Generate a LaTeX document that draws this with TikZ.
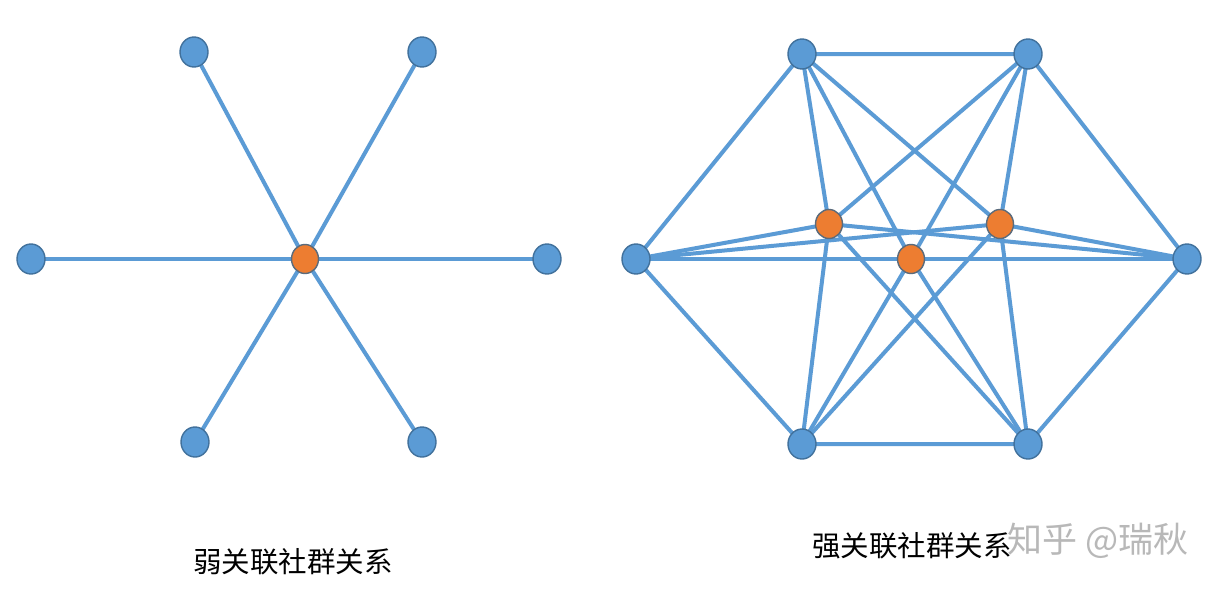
\documentclass[tikz,border=0pt]{standalone}
\usepackage{fontspec}
\newfontfamily\cjk{Noto Sans CJK SC}
\usetikzlibrary{shapes.geometric,backgrounds}
\definecolor{lineblue}{HTML}{5B9BD5}
\definecolor{nodeblue}{HTML}{5B9BD5}
\definecolor{rimblue}{HTML}{41719C}
\definecolor{nodeorange}{HTML}{ED7D31}
\definecolor{rimgrey}{HTML}{5A6B7C}
\tikzset{
  bnode/.style={ellipse, draw=rimblue, fill=nodeblue, minimum width=28pt, minimum height=30pt, inner sep=0pt, line width=1.4pt},
  onode/.style={ellipse, draw=rimgrey, fill=nodeorange, minimum width=27pt, minimum height=29pt, inner sep=0pt, line width=1.4pt},
  edge/.style={draw=lineblue, line width=4pt},
  caption/.style={font=\cjk\fontsize{28.5}{32}\selectfont, text=black, inner sep=0pt},
  wmark/.style={font=\cjk\fontsize{35}{40}\selectfont, text=black!28, inner sep=0pt}
}
\begin{document}
\begin{tikzpicture}[x=1pt,y=-1pt]
\useasboundingbox (0,0) rectangle (1222,590);
% left star
\node[onode] (c) at (305,259) {};
\node[bnode] (a1) at (194,52) {};
\node[bnode] (a2) at (422,52) {};
\node[bnode] (a3) at (31,259) {};
\node[bnode] (a4) at (547,259) {};
\node[bnode] (a5) at (195,442) {};
\node[bnode] (a6) at (422,442) {};
% right graph
\node[bnode] (tl) at (802,54) {};
\node[bnode] (tr) at (1028,54) {};
\node[bnode] (l) at (636,259) {};
\node[bnode] (r) at (1187,259) {};
\node[bnode] (bl) at (802,444) {};
\node[bnode] (br) at (1028,444) {};
\node[onode] (o1) at (829,224) {};
\node[onode] (o2) at (911,259) {};
\node[onode] (o3) at (1000,224) {};
\begin{scope}[on background layer]
\fill[white] (0,0) rectangle (1222,590);
\foreach \n in {a1,a2,a3,a4,a5,a6} \draw[edge] (c.center) -- (\n.center);
\draw[edge] (tl.center) -- (tr.center) -- (r.center) -- (br.center) -- (bl.center) -- (l.center) -- cycle;
\foreach \o in {o1,o2,o3} {
  \foreach \n in {tl,tr,l,r,bl,br} \draw[edge] (\o.center) -- (\n.center);
}
\end{scope}
% captions
\node[caption] (cap1) at (293,562) {弱关联社群关系};
\node[wmark] (wm) at (1098,541) {知乎 @瑞秋};
\node[caption] (cap2) at (912,546) {强关联社群关系};
\end{tikzpicture}
\end{document}
